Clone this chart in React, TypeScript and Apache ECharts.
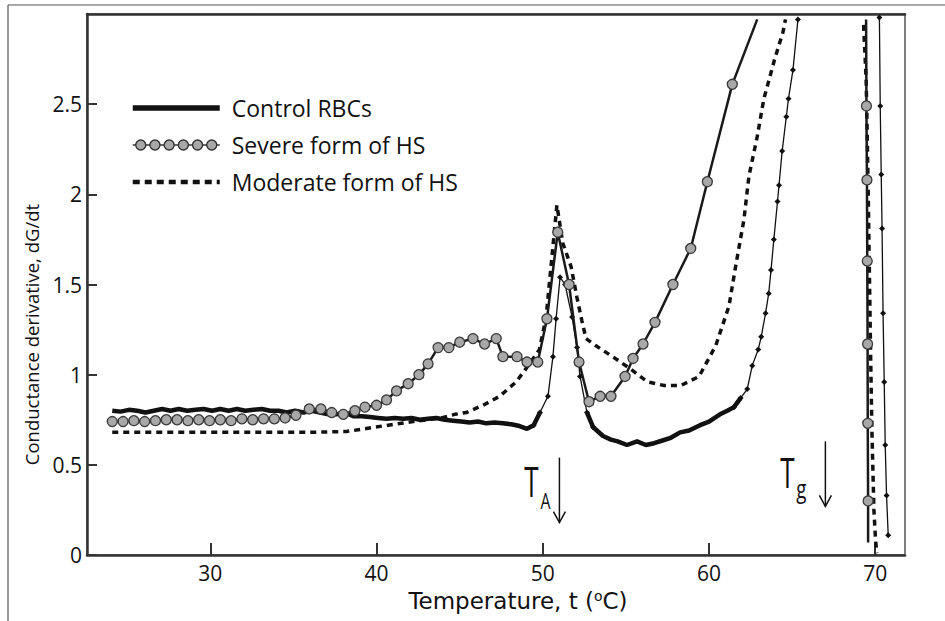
import React, { useEffect, useRef } from 'react';
import * as echarts from 'echarts';

// ---------- data (temperature °C, dG/dt) ----------
const xTicks = [30, 40, 50, 60, 70];
const yTicks = [0, 0.5, 1, 1.5, 2, 2.5];

const seriesNames = ['Control RBCs', 'Severe form of HS', 'Moderate form of HS'];

// Control RBCs: dense, noisy parts (thick band)
const controlDense: (number | string)[][] = [
  [24.1, 0.8], [24.6, 0.795], [25.1, 0.805], [25.6, 0.8], [26.1, 0.79], [26.6, 0.8], [27.1, 0.81],
  [27.6, 0.8], [28.1, 0.81], [28.6, 0.8], [29.1, 0.805], [29.6, 0.81], [30.1, 0.8], [30.6, 0.81],
  [31.1, 0.8], [31.6, 0.81], [32.1, 0.8], [32.6, 0.805], [33.1, 0.81], [33.6, 0.8], [34.1, 0.8],
  [34.6, 0.79], [35.1, 0.8], [35.6, 0.79], [36.1, 0.8], [36.6, 0.79], [37.1, 0.78], [37.6, 0.78],
  [38.1, 0.79], [38.6, 0.77], [39.1, 0.77], [39.6, 0.765], [40.1, 0.76], [40.6, 0.755], [41.1, 0.76],
  [41.6, 0.755], [42.1, 0.76], [42.6, 0.75], [43.1, 0.755], [43.6, 0.76], [44.1, 0.75], [44.6, 0.745],
  [45.1, 0.74], [45.6, 0.735], [46.1, 0.74], [46.6, 0.73], [47.1, 0.735], [47.6, 0.73], [48.1, 0.725],
  [48.6, 0.715], [49.05, 0.7], [49.45, 0.72], [49.83, 0.79],
  [51, '-'],
  [52.66, 0.79], [53.02, 0.71], [53.62, 0.66], [54.1, 0.64], [54.5, 0.63], [55.07, 0.61], [55.67, 0.63],
  [56.2, 0.61], [56.7, 0.62], [57.2, 0.635], [57.7, 0.65], [58.26, 0.68], [58.8, 0.69], [59.46, 0.72],
  [60.0, 0.74], [60.66, 0.78], [61.1, 0.8], [61.5, 0.82], [61.9, 0.87],
];
// Control RBCs: sparse, steep parts (thin line with diamonds)
const controlSparse: (number | string)[][] = [
  [49.45, 0.72], [49.83, 0.79], [50.31, 0.88], [50.61, 1.1], [50.8, 1.31], [51.04, 1.54], [51.34, 1.5],
  [51.76, 1.32], [52.06, 1.15], [52.24, 0.99], [52.66, 0.79], [53.02, 0.71],
  [57, '-'],
  [61.5, 0.82], [61.9, 0.87], [62.3, 0.92], [62.6, 1.05], [62.96, 1.14], [63.14, 1.21], [63.4, 1.34],
  [63.59, 1.45], [63.73, 1.58], [63.9, 1.75], [64.12, 1.96], [64.21, 2.05], [64.4, 2.24],
  [64.65, 2.43], [64.78, 2.53], [65.05, 2.69], [65.35, 2.97],
  [67, '-'],
  [70.25, 2.98], [70.3, 2.49], [70.36, 2.11], [70.41, 1.81], [70.47, 1.34], [70.54, 0.96],
  [70.6, 0.61], [70.68, 0.33], [70.78, 0.11],
];

// Severe form of HS (circles)
const severeRise: number[][] = [
  [24.1, 0.74], [24.75, 0.74], [25.4, 0.745], [26.05, 0.74], [26.7, 0.745], [27.35, 0.75], [28.0, 0.75],
  [28.65, 0.745], [29.3, 0.75], [29.95, 0.745], [30.6, 0.75], [31.25, 0.745], [31.9, 0.755], [32.55, 0.75],
  [33.2, 0.755], [33.85, 0.755], [34.5, 0.76], [35.15, 0.775], [35.95, 0.81], [36.65, 0.81], [37.3, 0.79],
  [38.0, 0.78], [38.7, 0.8], [39.3, 0.82], [40.0, 0.83], [40.6, 0.86], [41.2, 0.91], [41.9, 0.95],
  [42.55, 1.0], [43.1, 1.06], [43.7, 1.15], [44.35, 1.15], [45.0, 1.18], [45.8, 1.2], [46.5, 1.17],
  [47.2, 1.2], [47.6, 1.1], [48.45, 1.1], [49.05, 1.07], [49.7, 1.07], [50.25, 1.31], [50.9, 1.79],
  [51.58, 1.5], [52.18, 1.07], [52.78, 0.85], [53.45, 0.88], [54.1, 0.88], [54.95, 0.99], [55.43, 1.09],
  [56.03, 1.17], [56.75, 1.29], [57.83, 1.5], [58.9, 1.7], [59.9, 2.07], [61.4, 2.61],
];
const severeTopExit = [62.9, 2.97];
const severeTopEntry = [69.45, 2.97];
const severeFall: number[][] = [
  [69.47, 2.49], [69.5, 2.08], [69.52, 1.63], [69.54, 1.17], [69.55, 0.73], [69.57, 0.3],
];
const severeEnd = [69.57, 0.07];

// Moderate form of HS (dashed)
const moderate: (number | string)[][] = [
  [24.1, 0.68], [26, 0.68], [28, 0.68], [30, 0.68], [32, 0.68], [34, 0.68], [36, 0.68], [38.2, 0.685],
  [39.3, 0.7], [40.7, 0.72], [42.2, 0.74], [43.9, 0.76], [44.7, 0.78], [45.4, 0.79], [46.4, 0.83],
  [47.4, 0.88], [48.4, 0.96], [49.2, 1.06], [49.8, 1.14], [50.2, 1.32], [50.4, 1.51], [50.65, 1.75],
  [50.85, 1.94], [51.2, 1.73], [51.7, 1.6], [52.05, 1.43], [52.35, 1.3], [52.6, 1.2], [53.2, 1.16],
  [54.2, 1.1], [55.3, 1.03], [56.3, 0.96], [57.3, 0.94], [58.3, 0.94], [59.4, 0.99], [60.4, 1.16],
  [61.2, 1.38], [61.6, 1.6], [62.1, 1.86], [62.4, 2.1], [62.9, 2.32], [63.3, 2.53], [63.95, 2.75],
  [64.45, 2.9], [64.6, 2.97],
  [66, '-'],
  [69.3, 2.94], [69.45, 2.64], [69.5, 2.42], [69.58, 1.99], [69.65, 1.55], [69.72, 1.12],
  [69.8, 0.69], [69.92, 0.25], [70.02, 0.08], [70.1, 0.01],
];

// Annotations: transition temperatures with arrows
const annotationMain = ['T', 'T'];
const annotationSub = ['A', 'g'];
const annotationT = [51.0, 67.0];
const arrowTop = [0.54, 0.63];
const arrowBottom = [0.18, 0.27];

// ---------- styling ----------
const TICK_FONT = "'Open Sans', 'Noto Sans', sans-serif";
const INK = '#111';
const AXIS = '#333';

const severeLegendPath = (() => {
  const r = 5;
  let d = '';
  const centers = [0, 1, 2, 3, 4, 5].map((i) => 8 + i * 14.2);
  let prev = 0;
  centers.forEach((c) => {
    d += `M${prev},7 L${c - r},7 `;
    d += `M${c - r},7 A${r},${r} 0 1 1 ${c + r},7 A${r},${r} 0 1 1 ${c - r},7 Z `;
    prev = c + r;
  });
  d += `M${prev},7 L87,7`;
  return 'path://' + d;
})();

export default function App() {
  const ref = useRef<HTMLDivElement>(null);

  useEffect(() => {
    document.body.style.margin = '0';
    const chart = echarts.init(ref.current!, undefined, { renderer: 'svg' });

    const xMin = 22.58;
    const xMax = 71.79;

    const option: any = {
      animation: false,
      backgroundColor: '#ffffff',
      grid: {
        left: 87,
        right: 40,
        top: 14,
        bottom: 66,
        show: true,
        borderColor: '#555',
        borderWidth: 1.5,
      },
      legend: {
        orient: 'vertical',
        left: 125,
        top: 91,
        itemWidth: 87,
        itemHeight: 14,
        itemGap: 13,
        textStyle: {
          fontFamily: TICK_FONT,
          fontSize: 23,
          color: INK,
          lineHeight: 24,
          padding: [0, 0, 0, 7],
        },
        data: [
          {
            name: seriesNames[0],
            itemStyle: { color: 'transparent', borderWidth: 0 },
            lineStyle: { width: 5.5, color: '#111' },
          },
          {
            name: seriesNames[1],
            icon: severeLegendPath,
            itemStyle: { color: '#a8a8a8', borderColor: '#333', borderWidth: 1.4 },
          },
          {
            name: seriesNames[2],
            itemStyle: { color: 'transparent', borderWidth: 0 },
            lineStyle: { width: 4.5, color: '#111', type: [7, 5] },
          },
        ],
      },
      xAxis: [
        {
          type: 'value',
          min: xMin,
          max: xMax,
          position: 'bottom',
          axisLine: { show: true, lineStyle: { color: AXIS, width: 2.5 } },
          axisTick: {
            show: true,
            inside: true,
            length: 12,
            lineStyle: { color: AXIS, width: 2 },
            customValues: xTicks,
          },
          axisLabel: {
            show: true,
            margin: 7,
            fontFamily: TICK_FONT,
            fontSize: 21,
            color: INK,
            customValues: xTicks,
          },
          splitLine: { show: false },
          name: 'Temperature, t ({s|o}C)',
          nameLocation: 'middle',
          nameGap: 34,
          nameTextStyle: {
            fontFamily: "'DejaVu Sans', sans-serif",
            fontSize: 23,
            color: INK,
            padding: [0, 0, 0, 44],
            rich: {
              s: { fontFamily: "'DejaVu Sans', sans-serif", fontSize: 14, color: INK, verticalAlign: 'top', padding: [0, 0, 10, 0] },
            },
          },
        },
        {
          type: 'value',
          min: xMin,
          max: xMax,
          position: 'top',
          axisLine: { show: true, lineStyle: { color: AXIS, width: 2.5 } },
          axisTick: { show: false },
          axisLabel: { show: false },
          splitLine: { show: false },
        },
      ],
      yAxis: {
        type: 'value',
        min: 0,
        max: 3,
        axisLine: { show: true, lineStyle: { color: AXIS, width: 2.5 } },
        axisTick: {
          show: true,
          inside: true,
          length: 10,
          lineStyle: { color: AXIS, width: 2 },
          customValues: yTicks,
        },
        axisLabel: {
          show: true,
          margin: 5,
          fontFamily: TICK_FONT,
          fontSize: 21,
          color: INK,
          customValues: yTicks,
        },
        splitLine: { show: false },
        name: 'Conductance derivative, dG/dt',
        nameLocation: 'middle',
        nameGap: 46,
        nameTextStyle: {
          fontFamily: TICK_FONT,
          fontSize: 18.5,
          color: INK,
          padding: [0, 100, 0, 0],
        },
      },
      series: [
        {
          name: seriesNames[2],
          type: 'line',
          data: moderate,
          symbol: 'none',
          lineStyle: { color: '#111', width: 3.5, type: [6, 5] },
          itemStyle: { color: '#111' },
          connectNulls: false,
          z: 2,
        },
        {
          name: seriesNames[0],
          type: 'line',
          data: controlDense,
          symbol: 'none',
          lineStyle: { color: '#111', width: 4.5 },
          itemStyle: { color: '#111' },
          connectNulls: false,
          z: 3,
        },
        {
          name: seriesNames[0],
          type: 'line',
          data: controlSparse,
          symbol: 'diamond',
          symbolSize: 6,
          showAllSymbol: true,
          lineStyle: { color: '#111', width: 1.3 },
          itemStyle: { color: '#111' },
          connectNulls: false,
          z: 3,
        },
        {
          name: seriesNames[1],
          type: 'line',
          data: [
            ...severeRise,
            { value: severeTopExit, symbol: 'none' },
            [65, '-'],
            { value: severeTopEntry, symbol: 'none' },
            ...severeFall,
            { value: severeEnd, symbol: 'none' },
          ],
          symbol: 'circle',
          symbolSize: 10,
          showAllSymbol: true,
          lineStyle: { color: '#1a1a1a', width: 2.5 },
          itemStyle: { color: '#a8a8a8', borderColor: '#3a3a3a', borderWidth: 1.3 },
          connectNulls: false,
          z: 4,
        },
      ],
    };

    chart.setOption(option);

    const graphics: any[] = [
      { type: 'line', shape: { x1: 8, y1: 5, x2: 8, y2: 621 }, style: { stroke: '#555', lineWidth: 1.2 }, silent: true },
      { type: 'line', shape: { x1: 8, y1: 5, x2: 945, y2: 5 }, style: { stroke: '#555', lineWidth: 1.2 }, silent: true },
    ];

    annotationT.forEach((t, i) => {
      const top = chart.convertToPixel({ xAxisIndex: 0, yAxisIndex: 0 }, [t, arrowTop[i]]) as number[];
      const bot = chart.convertToPixel({ xAxisIndex: 0, yAxisIndex: 0 }, [t, arrowBottom[i]]) as number[];
      const x = top[0];
      graphics.push({
        type: 'line',
        shape: { x1: x, y1: top[1], x2: x, y2: bot[1] },
        style: { stroke: INK, lineWidth: 1.5 },
        silent: true,
      });
      graphics.push({
        type: 'polyline',
        shape: { points: [[x - 6, bot[1] - 11], [x, bot[1]], [x + 6, bot[1] - 11]] },
        style: { stroke: INK, lineWidth: 1.5, fill: 'none' },
        silent: true,
      });
      const mainDy = i === 0 ? -42 : -35;
      const subDy = i === 0 ? -22 : -18;
      const mainDx = i === 0 ? -28 : -38;
      const subDx = i === 0 ? -14 : -24;
      graphics.push({
        type: 'text',
        x: x + mainDx,
        y: bot[1] + mainDy,
        scaleX: 0.62,
        silent: true,
        style: {
          text: annotationMain[i],
          fontFamily: TICK_FONT,
          fontSize: 42,
          fill: INK,
          align: 'center',
          verticalAlign: 'middle',
        },
      });
      graphics.push({
        type: 'text',
        x: x + subDx,
        y: bot[1] + subDy,
        scaleX: 0.72,
        silent: true,
        style: {
          text: annotationSub[i],
          fontFamily: TICK_FONT,
          fontSize: i === 0 ? 22 : 26,
          fill: INK,
          align: 'center',
          verticalAlign: 'middle',
        },
      });
    });

    chart.setOption({ graphic: graphics });

    return () => chart.dispose();
  }, []);

  return <div ref={ref} style={{ width: 945, height: 621 }} />;
}
